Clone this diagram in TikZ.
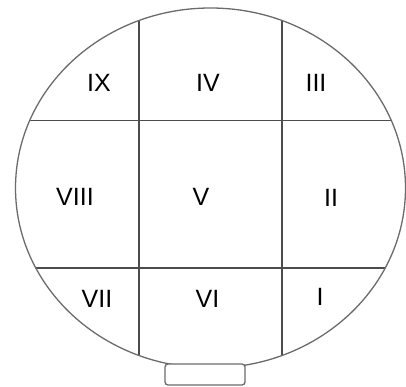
\documentclass[tikz,border=0pt]{standalone}
\usepackage{fontspec}
\setmainfont{Liberation Sans}
\begin{document}
\begin{tikzpicture}[x=1pt,y=-1pt,
  rim/.style={draw=black!58,line width=1.3pt},
  grid/.style={draw=black!70,line width=1.4pt},
  lbl/.style={anchor=base,inner sep=0pt,text=black,font=\fontsize{25}{25}\selectfont}]
\useasboundingbox (0,0) rectangle (406,387);
\begin{scope}
  \clip (210.5,188) ellipse [x radius=195,y radius=180];
  \draw[grid] (139,0) -- (139,387);
  \draw[grid] (282,0) -- (282,387);
  \draw[grid] (0,120.7) -- (406,120.7);
  \draw[grid] (0,268) -- (406,268);
\end{scope}
\draw[rim] (210.5,188) ellipse [x radius=195,y radius=180];
\draw[rim,fill=white,rounded corners=3pt] (165,364) rectangle (245,385);
\node[lbl] (ix) at (99,92) {IX};
\node[lbl] (iv) at (208,92) {IV};
\node[lbl] (iii) at (316,92) {III};
\node[lbl] (viii) at (75,205) {VIII};
\node[lbl] (v) at (201,205) {V};
\node[lbl] (ii) at (331,206) {II};
\node[lbl] (vii) at (97,307) {VII};
\node[lbl] (vi) at (207.5,307) {VI};
\node[lbl] (i) at (320,305) {I};
\end{tikzpicture}
\end{document}
